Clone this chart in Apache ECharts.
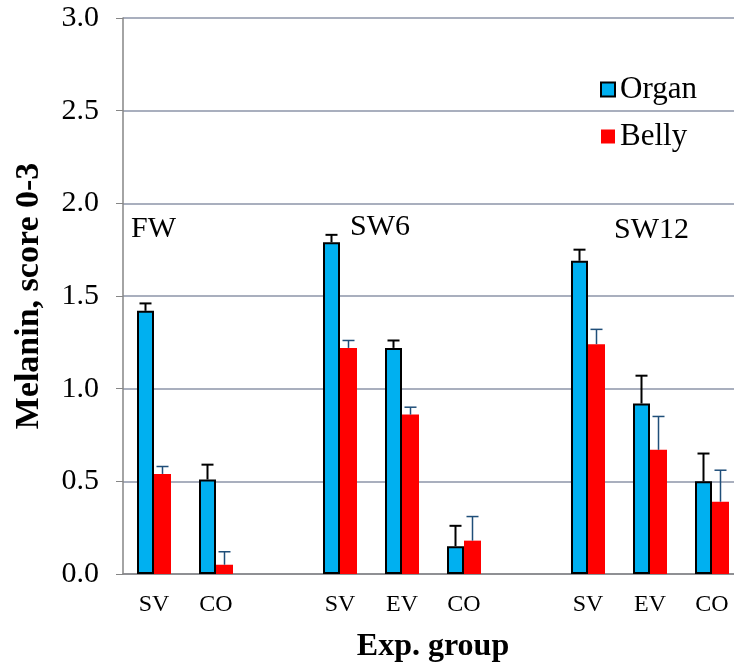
<!DOCTYPE html>
<html><head><meta charset="utf-8">
<script src="https://cdn.jsdelivr.net/npm/echarts@6/dist/echarts.min.js"></script>
<style>html,body{margin:0;padding:0;background:#fff}#c{width:734px;height:667px}</style>
</head><body><div id="c"></div>
<script>
const categories = ['SV','CO','','SV','EV','CO','','SV','EV','CO'];
const organ   = [1.42, 0.51, null, 1.79, 1.22, 0.15, null, 1.69, 0.92, 0.50];
const organSE = [0.04, 0.08, null, 0.04, 0.04, 0.11, null, 0.06, 0.15, 0.15];
const belly   = [0.54, 0.05, null, 1.22, 0.86, 0.18, null, 1.24, 0.67, 0.39];
const bellySE = [0.04, 0.07, null, 0.04, 0.04, 0.13, null, 0.08, 0.18, 0.17];
const groupLabels = ['FW', 'SW6', 'SW12'];

const FONT = '"Liberation Serif", "Times New Roman", serif';
const chart = echarts.init(document.getElementById('c'));

function errData(vals, se) {
  const out = [];
  vals.forEach((v, i) => { if (v != null) out.push([i, v, v + se[i]]); });
  return out;
}
function errRender(offset, color, lw, cap) {
  return function (params, api) {
    const i = api.value(0);
    const p0 = api.coord([i, api.value(1)]);
    const p1 = api.coord([i, api.value(2)]);
    const x = p0[0] + offset;
    return {
      type: 'group',
      children: [
        {type: 'line', shape: {x1: x, y1: p0[1], x2: x, y2: p1[1]}, style: {stroke: color, lineWidth: lw}},
        {type: 'line', shape: {x1: x - cap, y1: p1[1], x2: x + cap, y2: p1[1]}, style: {stroke: color, lineWidth: lw}}
      ]
    };
  };
}

chart.setOption({
  animation: false,
  backgroundColor: '#fff',
  textStyle: {fontFamily: FONT},
  grid: {left: 123, width: 620, top: 18, bottom: 93, containLabel: false, outerBoundsMode: 'none'},
  legend: {
    orient: 'vertical', left: 595, top: 69, itemGap: 16,
    itemWidth: 14, itemHeight: 14,
    textStyle: {fontFamily: FONT, fontSize: 31, color: '#000'},
    data: [{name: 'Organ', icon: 'rect'}, {name: 'Belly', icon: 'rect'}]
  },
  xAxis: {
    type: 'category', data: categories,
    name: 'Exp. group', nameLocation: 'middle', nameGap: 57,
    nameTextStyle: {fontFamily: FONT, fontSize: 32, fontWeight: 'bold', color: '#000'},
    axisLine: {lineStyle: {color: '#868686', width: 1.5}},
    axisTick: {show: false},
    axisLabel: {fontFamily: FONT, fontSize: 24, color: '#000', margin: 19, interval: 0}
  },
  yAxis: {
    type: 'value', min: 0, max: 3, interval: 0.5,
    name: 'Melanin, score 0-3', nameLocation: 'middle', nameGap: 77,
    nameTextStyle: {fontFamily: FONT, fontSize: 34, fontWeight: 'bold', color: '#000'},
    axisLine: {show: true, lineStyle: {color: '#868686', width: 1.5}},
    axisTick: {show: true, inside: false, length: 7, lineStyle: {color: '#868686'}},
    axisLabel: {fontFamily: FONT, fontSize: 30, color: '#000', margin: 24,
      formatter: v => v.toFixed(1)},
    splitLine: {lineStyle: {color: '#8C95A8', width: 1.5}}
  },
  series: [
    {name: 'Organ', type: 'bar', data: organ, barWidth: 17, barGap: '0%',
      itemStyle: {color: '#00B0F0', borderColor: '#000', borderWidth: 2}},
    {name: 'Belly', type: 'bar', data: belly, barWidth: 17,
      itemStyle: {color: '#FF0000'}},
    {name: 'OrganErr', type: 'custom', data: errData(organ, organSE),
      encode: {x: 0, y: [1, 2]}, renderItem: errRender(-8.5, '#000', 2, 6), z: 5},
    {name: 'BellyErr', type: 'custom', data: errData(belly, bellySE),
      encode: {x: 0, y: [1, 2]}, renderItem: errRender(8.5, '#1F4E79', 1.5, 6), z: 5}
  ],
  graphic: [
    {type: 'text', x: 131, y: 229, style: {text: groupLabels[0], font: '30px ' + FONT, fill: '#000', verticalAlign: 'middle'}},
    {type: 'text', x: 350, y: 227, style: {text: groupLabels[1], font: '30px ' + FONT, fill: '#000', verticalAlign: 'middle'}},
    {type: 'text', x: 614, y: 230, style: {text: groupLabels[2], font: '30px ' + FONT, fill: '#000', verticalAlign: 'middle'}}
  ]
});
</script></body></html>
